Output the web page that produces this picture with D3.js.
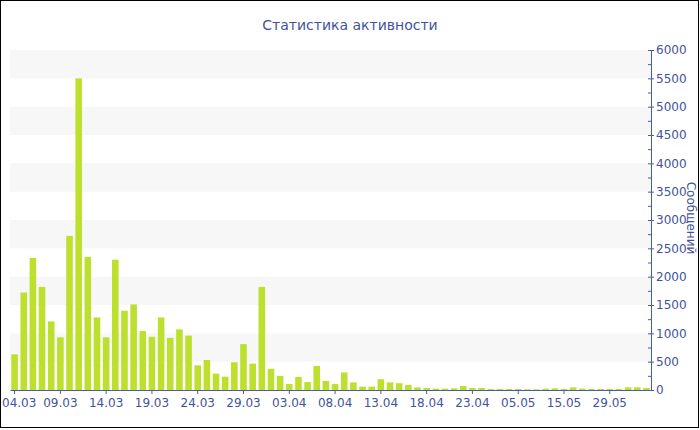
<!DOCTYPE html>
<html><head><meta charset="utf-8">
<script src="https://cdn.jsdelivr.net/npm/d3@7/dist/d3.min.js"></script>
<style>html,body{margin:0;padding:0;background:#fff;}svg{display:block;font-family:"DejaVu Sans",Verdana,sans-serif;}</style>
</head><body>
<svg id="c" width="700" height="430"></svg>
<script>
const dates = ["04.03","05.03","06.03","07.03","08.03","09.03","10.03","11.03","12.03","13.03",
"14.03","15.03","16.03","17.03","18.03","19.03","20.03","21.03","22.03","23.03",
"24.03","25.03","26.03","27.03","28.03","29.03","30.03","31.03","01.04","02.04",
"03.04","04.04","05.04","06.04","07.04","08.04","09.04","10.04","11.04","12.04",
"13.04","14.04","15.04","16.04","17.04","18.04","19.04","20.04","21.04","22.04",
"23.04","25.04","27.04","29.04","02.05","05.05","07.05","09.05","11.05","13.05",
"15.05","18.05","21.05","24.05","26.05","29.05","01.06","03.06","05.06","07.06"];
const messages = [630,1720,2330,1820,1210,930,2720,5500,2350,1280,
930,2300,1400,1510,1040,940,1280,920,1070,960,
435,530,290,235,490,810,465,1820,375,250,
105,230,140,425,160,105,310,135,60,60,
190,135,120,90,47,35,24,24,29,70,
35,35,18,18,18,18,12,12,24,29,
18,47,24,18,18,18,18,47,47,35];
const yTicks = [0,500,1000,1500,2000,2500,3000,3500,4000,4500,5000,5500,6000];
const title = "Статистика активности";
const yTitle = "Сообщений";

(function(){
const svg = d3.select("#c");
const pLeft = 10, pRight = 651, pTop = 50, pBottom = 390;
const axisColor = "#4a5ca6", textColor = "#3f539c";
const font = "DejaVu Sans, Verdana, sans-serif";

const x = d3.scaleBand().domain(dates).range([pLeft, pRight]).paddingInner(0.28).paddingOuter(0.14);
const y = d3.scaleLinear().domain([0, 6000]).range([pBottom, pTop]);

// alternating bands
for (let i = 1; i < yTicks.length - 1; i += 2) {
  svg.append("rect").attr("x", pLeft).attr("width", pRight - pLeft)
    .attr("y", y(yTicks[i + 1]))
    .attr("height", y(yTicks[i]) - y(yTicks[i + 1]))
    .attr("fill", "#f7f7f7");
}

// bars
svg.append("g").selectAll("rect").data(messages).join("rect")
  .attr("x", (d, i) => x(dates[i]))
  .attr("width", x.bandwidth())
  .attr("y", d => y(d))
  .attr("height", d => y(0) - y(d))
  .attr("fill", "#bde02f");

// x axis
const xAxis = d3.axisBottom(x).tickValues(dates.filter((d, i) => i % 5 === 0)).tickSize(4).tickSizeOuter(0).tickPadding(4);
const gx = svg.append("g").attr("transform", `translate(0,${pBottom})`).call(xAxis);
gx.select(".domain").attr("stroke", axisColor);
gx.selectAll(".tick line").attr("stroke", axisColor);
gx.selectAll(".tick text").attr("fill", textColor).attr("font-size", 12).attr("dy", "0.71em")
  .attr("font-family", font);
// keep the first label inside the frame
gx.selectAll(".tick text").filter((d, i) => i === 0).each(function() {
  const b = this.getBBox();
  const cx = x(dates[0]) + x.bandwidth() / 2;
  const leftEdge = cx + b.x;
  if (leftEdge < 2) d3.select(this).attr("dx", (2 - leftEdge) + "px");
});

// y axis (right)
const yMinor = d3.range(250, 6000, 500);
const gy = svg.append("g").attr("transform", `translate(${pRight},0)`);
gy.append("g").call(d3.axisRight(y).tickValues(yMinor).tickSize(0).tickFormat(""))
  .call(g => g.select(".domain").remove())
  .selectAll(".tick line").attr("x1", -3).attr("x2", 0).attr("stroke", axisColor);
const ya = gy.append("g").call(d3.axisRight(y).tickValues(yTicks).tickFormat(d3.format("d"))
  .tickSize(3).tickSizeOuter(0).tickPadding(2));
ya.select(".domain").attr("stroke", axisColor);
ya.selectAll(".tick line").attr("x1", -3).attr("stroke", axisColor);
ya.selectAll(".tick text").attr("fill", textColor).attr("font-size", 12)
  .attr("font-family", font);

// title
svg.append("text").attr("x", 350).attr("y", 30).attr("text-anchor", "middle")
  .attr("font-size", 14).attr("fill", textColor).attr("font-family", font).text(title);

// y title
svg.append("text").attr("transform", `translate(687,218) rotate(90)`).attr("text-anchor", "middle")
  .attr("font-size", 12).attr("fill", textColor).attr("font-family", font).text(yTitle);

// border
svg.append("rect").attr("x", 0.5).attr("y", 0.5).attr("width", 698).attr("height", 427)
  .attr("fill", "none").attr("stroke", "#000");
})();
</script>
</body></html>
